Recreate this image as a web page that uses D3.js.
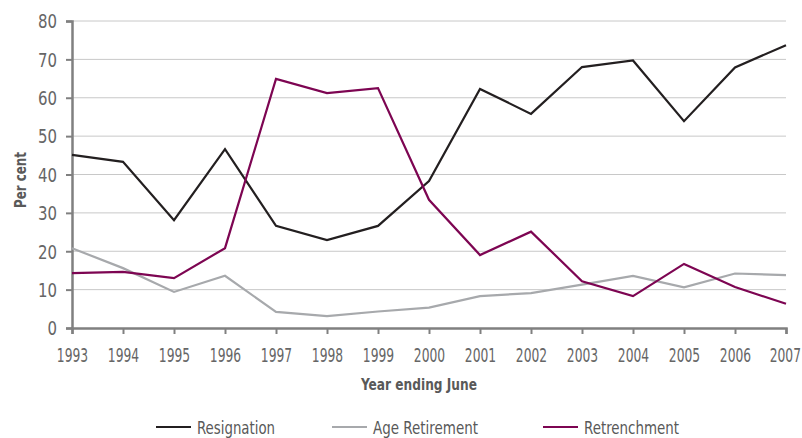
<!DOCTYPE html>
<html>
<head>
<meta charset="utf-8">
<script src="https://cdn.jsdelivr.net/npm/d3@7"></script>
<style>
  body { margin: 0; background: #fff; }
  svg text { font-family: "DejaVu Sans Condensed", "Roboto", sans-serif; }
</style>
</head>
<body>
<div class="chart"></div>
<script>
var years = [1993, 1994, 1995, 1996, 1997, 1998, 1999, 2000, 2001, 2002, 2003, 2004, 2005, 2006, 2007];
var resignation = [45.1, 43.3, 28.1, 46.6, 26.6, 22.9, 26.6, 38.3, 62.3, 55.8, 68.0, 69.7, 53.9, 67.9, 73.7];
var ageRetirement = [20.8, 15.6, 9.4, 13.6, 4.2, 3.1, 4.3, 5.3, 8.3, 9.1, 11.3, 13.6, 10.6, 14.2, 13.8];
var retrenchment = [14.3, 14.6, 13.0, 20.8, 64.9, 61.2, 62.5, 33.4, 19.0, 25.1, 12.2, 8.3, 16.7, 10.7, 6.3];
var yTicks = [0, 10, 20, 30, 40, 50, 60, 70, 80];
var seriesNames = ["Resignation", "Age Retirement", "Retrenchment"];

var colors = ["#231f20", "#a7a9ac", "#7d0552"];
var series = [resignation, ageRetirement, retrenchment].map(function(v, i) {
  return { name: seriesNames[i], values: v, color: colors[i] };
});

var width = 802, height = 438;
var svg = d3.select(".chart").append("svg")
  .attr("width", width)
  .attr("height", height);

var x = d3.scaleLinear().domain([1993, 2007]).range([72, 786]);
var y = d3.scaleLinear().domain([0, 80]).range([328, 21]);

// gridlines
svg.append("g")
  .selectAll("line")
  .data(yTicks.filter(function(d) { return d > 0; }))
  .enter().append("line")
  .attr("x1", 72)
  .attr("x2", 786)
  .attr("y1", function(d) { return y(d); })
  .attr("y2", function(d) { return y(d); })
  .attr("stroke", "#c8c8c8")
  .attr("stroke-width", 1);

// y axis
var yAxis = svg.append("g")
  .attr("transform", "translate(72,0)")
  .call(d3.axisLeft(y).tickValues(yTicks).tickSize(6).tickPadding(9));
yAxis.select(".domain").attr("stroke", "#808080").attr("stroke-width", 2.5);
yAxis.selectAll(".tick line").attr("stroke", "#808080").attr("stroke-width", 2);
yAxis.selectAll("text")
  .attr("fill", "#666")
  .attr("dy", "0.36em")
  .style("font-size", "19px")
  .attr("textLength", function(d) { return String(d).length * 9.5; })
  .attr("lengthAdjust", "spacingAndGlyphs");

// x axis (labels squeezed horizontally to mimic the condensed face)
var sx = 0.72;
var xAxis = svg.append("g")
  .attr("transform", "translate(0,328)")
  .call(d3.axisBottom(x).tickValues(years).tickFormat(d3.format("d")).tickSize(6).tickPadding(0));
xAxis.select(".domain").attr("stroke", "#808080").attr("stroke-width", 2.5);
xAxis.selectAll(".tick line").attr("stroke", "#808080").attr("stroke-width", 2);
xAxis.selectAll(".tick text")
  .attr("fill", "#666")
  .attr("y", 34)
  .attr("dy", null)
  .attr("x", 0)
  .style("font-size", "19px")
  .attr("transform", "scale(" + sx + ",1)");
// last label sits against the right edge, keep it inside
xAxis.selectAll(".tick text")
  .filter(function(d) { return d === 2007; })
  .attr("text-anchor", "end")
  .attr("x", 14.5 / sx);

// lines
var line = d3.line()
  .x(function(d, i) { return x(years[i]); })
  .y(function(d) { return y(d); });

series.forEach(function(s) {
  svg.append("path")
    .datum(s.values)
    .attr("d", line)
    .attr("fill", "none")
    .attr("stroke", s.color)
    .attr("stroke-width", 2.2)
    .attr("stroke-linejoin", "miter");
});

// axis titles
svg.append("text")
  .attr("x", 419)
  .attr("y", 390)
  .attr("text-anchor", "middle")
  .attr("fill", "#595959")
  .style("font-size", "15px")
  .style("font-weight", "bold")
  .attr("textLength", 116)
  .attr("lengthAdjust", "spacingAndGlyphs")
  .text("Year ending June");

svg.append("text")
  .attr("transform", "translate(26,180) rotate(-90)")
  .attr("text-anchor", "middle")
  .attr("fill", "#595959")
  .style("font-size", "15px")
  .style("font-weight", "bold")
  .attr("textLength", 56)
  .attr("lengthAdjust", "spacingAndGlyphs")
  .text("Per cent");

// legend
var legendX = [156, 332, 543];
var legendW = [78, 105, 95];
var legend = svg.append("g");
series.forEach(function(s, i) {
  legend.append("line")
    .attr("x1", legendX[i])
    .attr("x2", legendX[i] + 35)
    .attr("y1", 427)
    .attr("y2", 427)
    .attr("stroke", s.color)
    .attr("stroke-width", 2.2);
  legend.append("text")
    .attr("x", legendX[i] + 41)
    .attr("y", 434)
    .attr("fill", "#595959")
    .style("font-size", "17px")
    .attr("textLength", legendW[i])
    .attr("lengthAdjust", "spacingAndGlyphs")
    .text(s.name);
});
</script>
</body>
</html>
